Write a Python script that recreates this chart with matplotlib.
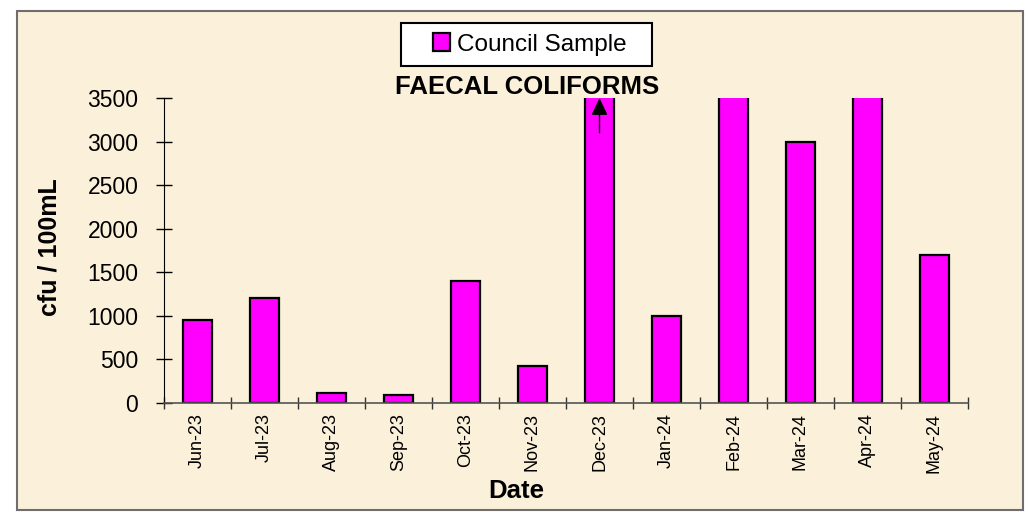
"""Faecal coliforms monthly bar chart (Excel-style)."""

import matplotlib

matplotlib.use("Agg")
import matplotlib.pyplot as plt
from matplotlib.patches import Rectangle
from matplotlib.ticker import FixedLocator, MultipleLocator

months = ["Jun-23", "Jul-23", "Aug-23", "Sep-23", "Oct-23", "Nov-23",
          "Dec-23", "Jan-24", "Feb-24", "Mar-24", "Apr-24", "May-24"]
# Dec-23, Feb-24 and Apr-24 run off the top of the 3500 scale
council = [950, 1200, 120, 90, 1400, 430, 5000, 1000, 4000, 3000, 3800, 1700]
off_scale = ["Dec-23"]

plt.rcParams["font.family"] = ["Liberation Sans", "DejaVu Sans"]

W, H = 1028, 512
fig = plt.figure(figsize=(W / 100, H / 100), dpi=100, facecolor="white")

# parchment frame, behind everything
fig.patches.append(Rectangle((17 / W, 2 / H), 1006 / W, 499 / H,
                             transform=fig.transFigure, facecolor="#fbf0d9",
                             edgecolor="#6e6e6e", linewidth=1.5, zorder=-5))

ax = fig.add_axes([164 / W, 109 / H, 804 / W, 305 / H])
ax.set_zorder(2)
ax.patch.set_visible(False)

x = list(range(len(months)))
ax.bar(x, council, width=0.42, color="#ff00ff", edgecolor="black",
       linewidth=1.6, label="Council Sample", zorder=2)

for m in off_scale:
    i = months.index(m)
    ax.annotate("", xy=(i, 3500), xytext=(i, 3100),
                arrowprops=dict(arrowstyle="-|>,head_width=0.5,head_length=1.05",
                                color="black", lw=1.0, shrinkA=0, shrinkB=0),
                annotation_clip=False, zorder=3)

ax.set_xlim(-0.5, len(months) - 0.5)
ax.set_ylim(0, 3500)
ax.yaxis.set_major_locator(MultipleLocator(500))

ax.set_xticks(x)
ax.set_xticklabels(months, rotation=90, fontsize=13)
ax.xaxis.set_minor_locator(FixedLocator([i - 0.5 for i in range(len(months) + 1)]))
ax.tick_params(axis="x", which="major", length=0, pad=7)
ax.tick_params(axis="x", which="minor", direction="inout", length=8,
               width=1, color="#333333")
ax.tick_params(axis="y", direction="inout", length=11, width=1,
               labelsize=16.5, pad=13)

for side in ("top", "right"):
    ax.spines[side].set_visible(False)
ax.spines["left"].set_color("black")
ax.spines["bottom"].set_color("#555555")
ax.spines["bottom"].set_linewidth(1.2)

ax.set_ylabel("cfu / 100mL", fontsize=18, fontweight="bold")
ax.yaxis.set_label_coords(-0.128, 0.51)
fig.text(516 / W, 1 - 491 / H, "Date", fontsize=18.5, fontweight="bold",
         ha="center", va="center")

fig.text(527 / W, 1 - 87 / H, "FAECAL COLIFORMS", fontsize=18.5,
         fontweight="bold", ha="center", va="center")

# legend box drawn by hand for the wide Excel-style padding
fig.patches.append(Rectangle((401 / W, 1 - 66 / H), 251 / W, 43 / H,
                             transform=fig.transFigure, facecolor="white",
                             edgecolor="black", linewidth=1.5, zorder=1))
leg = fig.legend(loc="center", bbox_to_anchor=(530 / W, 1 - 44.5 / H),
                 fontsize=17.5, frameon=False, handlelength=0.7,
                 handleheight=0.7, handletextpad=0.3, borderpad=0.3,
                 borderaxespad=0)
leg.set_zorder(3)

fig.savefig("out.png", dpi=100, facecolor=fig.get_facecolor())
